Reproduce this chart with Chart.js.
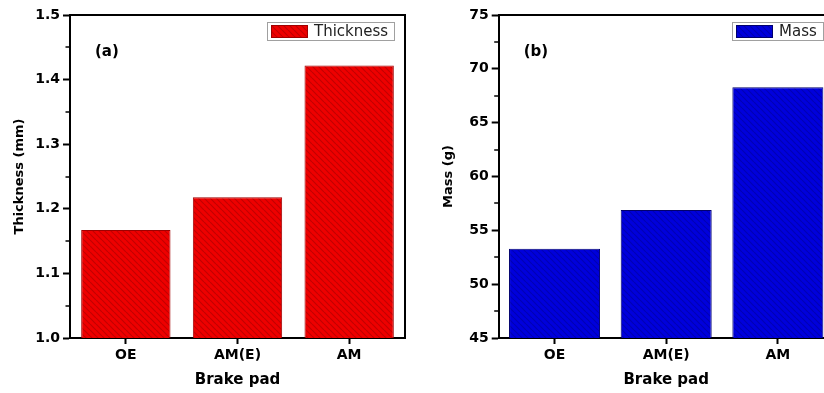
<!DOCTYPE html>
<html>
<head>
<meta charset="utf-8">
<script src="https://cdn.jsdelivr.net/npm/chart.js@4.4.1/dist/chart.umd.min.js"></script>
<style>
  html, body { margin: 0; padding: 0; background: #fff; overflow: hidden; }
  #wrap { position: relative; width: 824px; height: 393px; overflow: hidden; }
  #chartA { position: absolute; left: 0; top: 0; }
  #chartB { position: absolute; left: 412px; top: 0; }
</style>
</head>
<body>
<div id="wrap">
  <canvas id="chartA" width="412" height="393"></canvas>
  <canvas id="chartB" width="440" height="393"></canvas>
</div>
<script>
const categories = ['OE', 'AM(E)', 'AM'];
const thicknessValues = [1.167, 1.218, 1.422];
const massValues = [53.3, 56.9, 68.3];
const thicknessTicks = [1.0, 1.1, 1.2, 1.3, 1.4, 1.5];
const massTicks = [45, 50, 55, 60, 65, 70, 75];

Chart.defaults.font.family = '"DejaVu Sans", sans-serif';
Chart.defaults.color = '#000';

// diagonal hatch fill like the origin plot
function hatch(base, stripe) {
  const c = document.createElement('canvas');
  c.width = 6; c.height = 6;
  const g = c.getContext('2d');
  g.fillStyle = base;
  g.fillRect(0, 0, 6, 6);
  g.strokeStyle = stripe;
  g.lineWidth = 1.2;
  g.beginPath();
  for (const k of [-6, 0, 6]) { g.moveTo(k, 0); g.lineTo(k + 6, 6); }
  g.stroke();
  return g.createPattern(c, 'repeat');
}

// box frame, minor ticks, panel letter and boxed legend
const framePlugin = {
  id: 'frame',
  afterDraw(chart, args, opts) {
    const { ctx, chartArea: a } = chart;
    const y = chart.scales.y;
    ctx.save();
    ctx.strokeStyle = '#000';
    ctx.lineWidth = 2;
    ctx.beginPath();
    ctx.moveTo(a.left, a.top);
    ctx.lineTo(a.right, a.top);
    ctx.lineTo(a.right, a.bottom);
    ctx.stroke();

    const t = opts.ticks;
    ctx.lineWidth = 1.5;
    for (let i = 0; i < t.length - 1; i++) {
      const py = Math.round(y.getPixelForValue((t[i] + t[i + 1]) / 2));
      ctx.beginPath();
      ctx.moveTo(a.left - 4.5, py);
      ctx.lineTo(a.left, py);
      ctx.stroke();
    }

    ctx.fillStyle = '#000';
    ctx.font = 'bold 15px "DejaVu Sans"';
    ctx.textBaseline = 'middle';
    ctx.fillText(opts.label, a.left + 25, a.top + 37);

    const ds = chart.data.datasets[0];
    ctx.font = '15px "DejaVu Sans"';
    const tw = ctx.measureText(ds.label).width;
    const w = Math.round(4 + 37 + 6 + tw + 6), h = 18;
    const lx = Math.round(a.right - 11 - w), ly = Math.round(a.top + 7);
    ctx.strokeStyle = '#a0a0a0';
    ctx.lineWidth = 1;
    ctx.strokeRect(lx + 0.5, ly + 0.5, w, h);
    ctx.fillStyle = ds.backgroundColor;
    ctx.fillRect(lx + 4, ly + 3, 37, h - 5);
    ctx.strokeStyle = ds.borderColor;
    ctx.strokeRect(lx + 4.5, ly + 3.5, 36, h - 6);
    ctx.fillStyle = '#222';
    ctx.fillText(ds.label, lx + 47, ly + h / 2 + 1);
    ctx.restore();
  }
};

function makeChart(id, label, values, ticks, fill, edge, yTitle, titlePad, axisW, padRight, panel, barPct, fmt) {
  return new Chart(document.getElementById(id), {
    type: 'bar',
    data: {
      labels: categories,
      datasets: [{
        label: label,
        data: values,
        backgroundColor: fill,
        borderColor: edge,
        borderWidth: 1,
        categoryPercentage: 1,
        barPercentage: barPct
      }]
    },
    options: {
      responsive: false,
      animation: false,
      layout: { padding: { top: 15, right: padRight, left: 0, bottom: 0 } },
      plugins: {
        legend: { display: false },
        tooltip: { enabled: false },
        frame: { ticks: ticks, label: panel }
      },
      scales: {
        x: {
          grid: { display: true, drawOnChartArea: false, offset: false, tickLength: 6, tickWidth: 2, tickColor: '#000' },
          border: { display: true, color: '#000', width: 2 },
          ticks: { font: { size: 14, weight: 'bold' }, padding: 3 },
          title: { display: true, text: 'Brake pad', font: { size: 15, weight: 'bold' }, padding: { top: 4, bottom: 4 } },
          afterFit: s => { s.height = 55; }
        },
        y: {
          min: ticks[0],
          max: ticks[ticks.length - 1],
          afterBuildTicks: s => { s.ticks = ticks.map(v => ({ value: v })); },
          grid: { display: true, drawOnChartArea: false, tickLength: 7, tickWidth: 2, tickColor: '#000' },
          border: { display: true, color: '#000', width: 2 },
          ticks: { font: { size: 14, weight: 'bold' }, padding: 3, callback: fmt },
          title: { display: true, text: yTitle, font: { size: 13, weight: 'bold' }, padding: { top: titlePad, bottom: 0 } },
          afterFit: s => { s.width = axisW; }
        }
      }
    },
    plugins: [framePlugin]
  });
}

makeChart('chartA', 'Thickness', thicknessValues, thicknessTicks,
  hatch('#ee0000', '#c20000'), '#a00000', 'Thickness (mm)', 12, 70, 7, '(a)', 0.8,
  v => Number(v).toFixed(1));

makeChart('chartB', 'Mass', massValues, massTicks,
  hatch('#0000dc', '#0000b4'), '#00006e', 'Mass (g)', 28.5, 86.7, 18.3, '(b)', 0.815,
  v => String(v));
</script>
</body>
</html>
